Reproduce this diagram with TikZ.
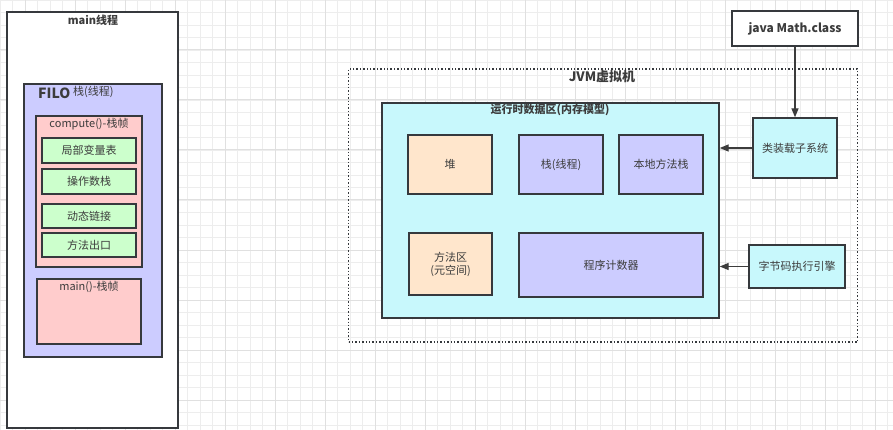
\documentclass[tikz,border=0pt]{standalone}
\usepackage{fontspec}
\setmainfont{Noto Sans CJK SC}
\usetikzlibrary{arrows.meta}
\definecolor{edge}{HTML}{36393D}
\definecolor{ink}{HTML}{3C3C3C}
\definecolor{stackblue}{HTML}{CCCCFF}
\definecolor{framepink}{HTML}{FFCCCC}
\definecolor{slotgreen}{HTML}{CCFFCC}
\definecolor{areacyan}{HTML}{C8F8FC}
\definecolor{heapsand}{HTML}{FFE6CC}
\definecolor{gridminor}{HTML}{EDEDED}
\definecolor{gridmajor}{HTML}{E0E0E0}
\tikzset{
  box/.style={draw=edge, line width=1.4pt, text=ink, font=\fontsize{11}{13}\selectfont, inner sep=2pt, align=center},
  title/.style={text=ink, inner sep=0pt, font=\fontsize{11}{13}\selectfont},
  btitle/.style={text=ink, inner sep=0pt, font=\bfseries\fontsize{12}{14}\selectfont},
  link/.style={draw=ink, line width=1.4pt, -{Triangle[length=9pt,width=7pt]}},
}
\begin{document}
\begin{tikzpicture}[x=1pt,y=-1pt]
\useasboundingbox (0,0) rectangle (893,430);
\fill[white] (0,0) rectangle (893,430);
% background grid
\foreach \i in {0,...,71} \draw[gridminor, line width=0.7pt] (\i*12.5,0) -- (\i*12.5,430);
\foreach \j in {0,...,34} \draw[gridminor, line width=0.7pt] (0,\j*12.5) -- (893,\j*12.5);
\foreach \i in {0,...,17} \draw[gridmajor, line width=1pt] (25+\i*50,0) -- (25+\i*50,430);
\foreach \j in {0,...,8} \draw[gridmajor, line width=1pt] (0,\j*50) -- (893,\j*50);

% main thread
\node[box, fill=white, minimum width=171pt, minimum height=416pt] (mainthread) at (92.5,220) {};
\node[btitle, font=\bfseries\fontsize{11}{13}\selectfont] (mainthreadlbl) at (93,20) {main线程};

% thread stack
\node[box, fill=stackblue, minimum width=138pt, minimum height=273pt] (stack) at (93,220.5) {};
\node[btitle, font=\bfseries\fontsize{14}{16}\selectfont, anchor=west] (filo) at (38,93) {FILO};
\node[title, anchor=west] (stacklbl) at (73,92) {栈(线程)};

% compute() frame
\node[box, fill=framepink, minimum width=106pt, minimum height=151pt] (compframe) at (89,191.5) {};
\node[title] (compframelbl) at (89,124) {compute()-栈帧};
\node[box, fill=slotgreen, minimum width=94pt, minimum height=25pt] (locals) at (89,150.5) {局部变量表};
\node[box, fill=slotgreen, minimum width=94pt, minimum height=25pt] (operands) at (89,181.5) {操作数栈};
\node[box, fill=slotgreen, minimum width=94pt, minimum height=24pt] (dynlink) at (89,216) {动态链接};
\node[box, fill=slotgreen, minimum width=94pt, minimum height=24pt] (retaddr) at (89,245) {方法出口};

% main() frame
\node[box, fill=framepink, minimum width=104pt, minimum height=65pt] (mainframe) at (89,311.5) {};
\node[title] (mainframelbl) at (89,287) {main()-栈帧};

% JVM
\node[draw=edge, dotted, line width=1.4pt, minimum width=509pt, minimum height=273pt] (jvm) at (603,205.5) {};
\node[btitle, font=\bfseries\fontsize{13}{15}\selectfont] (jvmlbl) at (602,77) {JVM虚拟机};

% runtime data area
\node[box, fill=areacyan, minimum width=337pt, minimum height=215pt] (rda) at (550.5,210.5) {};
\node[btitle, font=\bfseries\fontsize{11}{13}\selectfont] (rdalbl) at (550,110) {运行时数据区(内存模型)};
\node[box, fill=heapsand, minimum width=84pt, minimum height=59pt] (heap) at (450,164.5) {堆};
\node[box, fill=stackblue, minimum width=84pt, minimum height=59pt] (vmstack) at (561,164.5) {栈(线程)};
\node[box, fill=stackblue, minimum width=84pt, minimum height=59pt] (native) at (661,164.5) {本地方法栈};
\node[box, fill=heapsand, minimum width=83pt, minimum height=62pt] (metaspace) at (450.5,264) {方法区\\(元空间)};
\node[box, fill=stackblue, minimum width=184pt, minimum height=64pt] (pc) at (611,265) {程序计数器};

% class file, loader and engine
\node[box, fill=white, minimum width=126pt, minimum height=35pt, font=\bfseries\fontsize{12}{14}\selectfont] (classfile) at (795,28.5) {java Math.class};
\node[box, fill=areacyan, minimum width=84pt, minimum height=60pt] (loader) at (795,148) {类装载子系统};
\node[box, fill=areacyan, minimum width=96pt, minimum height=43pt] (engine) at (797,266.5) {字节码执行引擎};

\draw[link] (classfile.south) -- (loader.north);
\draw[link] (loader.west) -- (rda.east |- loader.west);
\draw[link] (engine.west) -- (rda.east |- engine.west);
\end{tikzpicture}
\end{document}
